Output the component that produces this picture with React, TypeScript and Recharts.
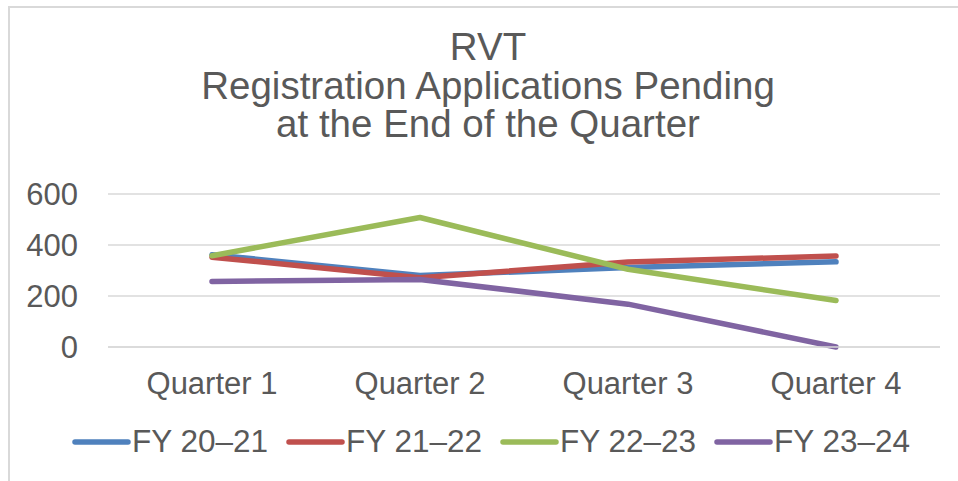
import { CartesianGrid, Legend, Line, LineChart, XAxis, YAxis } from "recharts"

const quarters = ["Quarter 1", "Quarter 2", "Quarter 3", "Quarter 4"]
const fy2021 = [362, 280, 312, 334]
const fy2122 = [352, 272, 333, 357]
const fy2223 = [358, 508, 305, 182]
const fy2324 = [257, 265, 168, 0]
const yTicks = [0, 200, 400, 600]

const series = [
    { key: "fy2021", name: "FY 20\u201321", color: "#4f81bd", values: fy2021 },
    { key: "fy2122", name: "FY 21\u201322", color: "#c0504d", values: fy2122 },
    { key: "fy2223", name: "FY 22\u201323", color: "#9bbb59", values: fy2223 },
    { key: "fy2324", name: "FY 23\u201324", color: "#8064a2", values: fy2324 },
]

const data = quarters.map((q, i) => {
    const row: Record<string, string | number> = { quarter: q }
    series.forEach(s => { row[s.key] = s.values[i] })
    return row
})

const textColor = "#595959"
const font = "'Liberation Sans', Arial, sans-serif"

function LegendContent() {
    return <div style={{ display: "flex", alignItems: "center", fontFamily: font, fontSize: 31.5, color: textColor, paddingLeft: 71 }}>
        {series.map(s => <div key={s.key} style={{ display: "flex", alignItems: "center", marginRight: 17 }}>
            <svg width={60} height={10}>
                <line x1={4} y1={5} x2={57} y2={5} stroke={s.color} strokeWidth={5.5} strokeLinecap="round" />
            </svg>
            <span style={{ marginLeft: 1 }}>{s.name}</span>
        </div>)}
    </div>
}

export default function App() {
    return <div style={{ position: "absolute", left: 0, top: 0, width: 958, height: 481, overflow: "hidden", background: "#fff" }}>
        <div style={{ position: "absolute", left: 8, top: 6, width: 1000, height: 600, border: "2px solid #d9d9d9", boxSizing: "border-box" }} />
        <div style={{ position: "absolute", left: 0, top: 28, width: 976, textAlign: "center", fontFamily: font, fontSize: 38.5, lineHeight: "38.5px", color: textColor }}>
            <div>RVT</div>
            <div>Registration Applications Pending</div>
            <div>at the End of the Quarter</div>
        </div>
        <div style={{ position: "absolute", left: 0, top: 0 }}>
            <LineChart width={958} height={481} data={data} margin={{ top: 194, right: 18, bottom: 104, left: 0 }}>
                <CartesianGrid vertical={false} stroke="#d9d9d9" strokeWidth={1.5} />
                <XAxis dataKey="quarter" padding={{ left: 104, right: 104 }} axisLine={{ stroke: "#d9d9d9", strokeWidth: 1.5 }} tickLine={false} tickMargin={19}
                    tick={{ fill: textColor, fontSize: 31, fontFamily: font }} interval={0} />
                <YAxis domain={[0, 600]} ticks={yTicks} width={108} axisLine={false} tickLine={false} tickMargin={24}
                    tick={{ fill: textColor, fontSize: 31, fontFamily: font }} />
                <Legend verticalAlign="middle" align="center" content={<LegendContent />}
                    wrapperStyle={{ top: 423, left: 0, width: 958 }} />
                {series.map(s => <Line key={s.key} dataKey={s.key} name={s.name} type="linear" stroke={s.color} strokeWidth={5.5}
                    strokeLinecap="round" strokeLinejoin="round" dot={false} activeDot={false} isAnimationActive={false} />)}
            </LineChart>
        </div>
    </div>
}
